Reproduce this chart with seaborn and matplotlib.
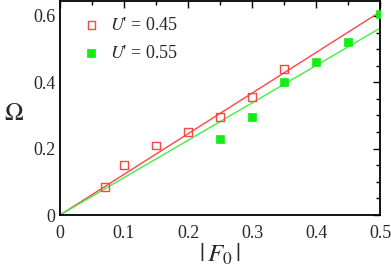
import numpy as np
import pandas as pd
import matplotlib
matplotlib.use("Agg")
import matplotlib.pyplot as plt
import seaborn as sns
from matplotlib.ticker import MultipleLocator

# data
red_x = [0.07, 0.10, 0.15, 0.20, 0.25, 0.30, 0.35]
red_y = [0.085, 0.15, 0.21, 0.25, 0.295, 0.355, 0.44]
green_x = [0.25, 0.30, 0.35, 0.40, 0.45, 0.50]
green_y = [0.23, 0.295, 0.40, 0.46, 0.52, 0.605]
fit_x = [0.0, 0.5]
red_fit = [0.0, 0.612]
green_fit = [0.0, 0.563]

sns.set_style("white")
plt.rcParams['font.family'] = ['Liberation Serif', 'DejaVu Serif']
plt.rcParams['mathtext.fontset'] = 'stix'

red = '#ff4444'
green = '#11ee11'

fig = plt.figure(figsize=(3.91, 2.73), dpi=100)
ax = fig.add_axes([60/391, 58/273, 320/391, 214/273])

sns.lineplot(x=fit_x, y=red_fit, color=red, lw=1.0, ax=ax)
sns.lineplot(x=fit_x, y=green_fit, color='#44ee44', lw=1.0, ax=ax)
sns.scatterplot(x=red_x, y=red_y, marker='s', s=30, facecolor='none',
                edgecolor=red, linewidth=1.0, ax=ax, label="$U$' = 0.45", zorder=3)
sns.scatterplot(x=green_x, y=green_y, marker='s', s=30, color=green,
                edgecolor=green, linewidth=0.5, ax=ax, label="$U$' = 0.55", zorder=3)

ax.set_xlim(0, 0.5)
ax.set_ylim(0, 0.645)
ax.xaxis.set_minor_locator(MultipleLocator(0.05))
ax.yaxis.set_minor_locator(MultipleLocator(0.05))
ax.set_xticks([0, 0.1, 0.2, 0.3, 0.4, 0.5])
ax.set_xticklabels(['0', '0.1', '0.2', '0.3', '0.4', '0.5'])
ax.set_yticks([0, 0.2, 0.4, 0.6])
ax.set_yticklabels(['0', '0.2', '0.4', '0.6'])
ax.tick_params(which='both', direction='in', top=True, right=True, labelsize=13,
               width=1.0, color='black')
ax.tick_params(which='major', length=5)
ax.tick_params(which='minor', length=3)
ax.tick_params(axis='x', pad=7)
for sp in ax.spines.values():
    sp.set_visible(True)
    sp.set_color('black')
    sp.set_linewidth(1.3)

ax.set_xlabel(r'$|\,F_0\,|$', fontsize=18, labelpad=0)
ax.set_ylabel(r'$\Omega$', fontsize=18, rotation=0)
ax.yaxis.set_label_coords(-0.145, 0.42)

leg = ax.legend(loc='upper left', frameon=False, fontsize=13, handletextpad=0.4,
                borderaxespad=0.3, labelspacing=0.6, handlelength=1.2,
                bbox_to_anchor=(0.025, 0.985))

fig.savefig('out.png', dpi=100)
